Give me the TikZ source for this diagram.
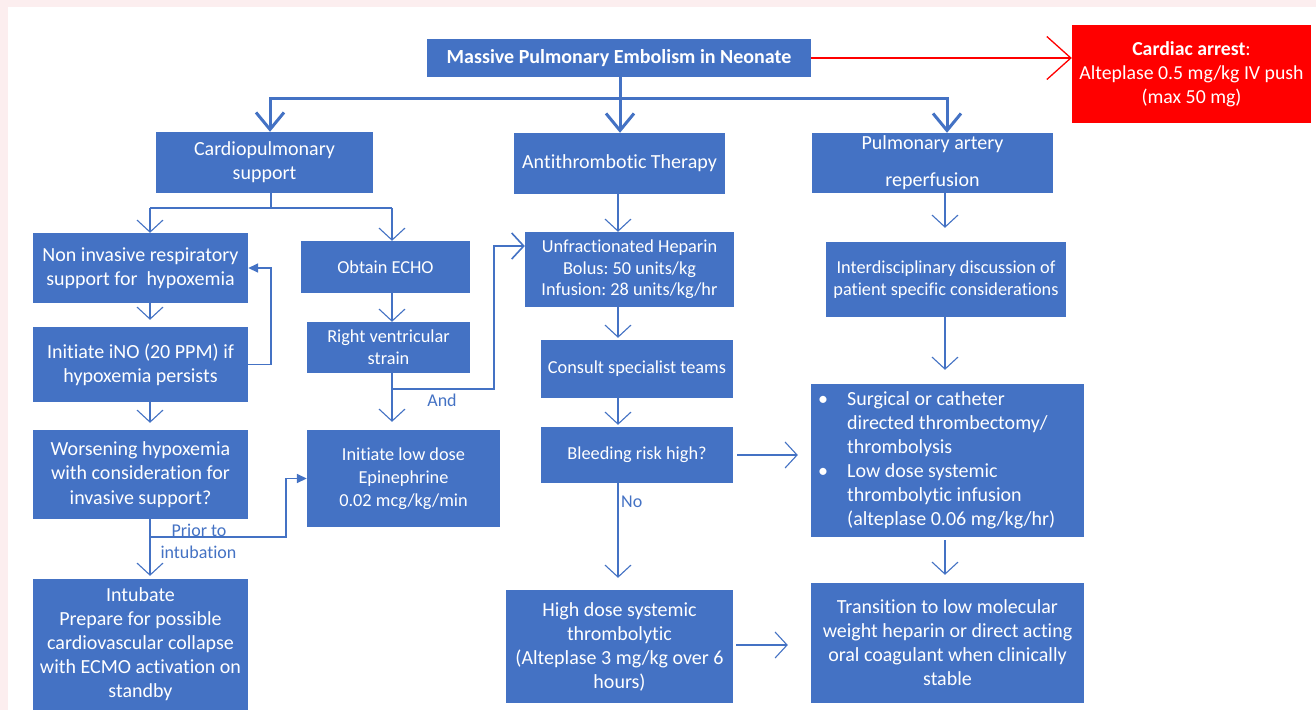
\documentclass[tikz,border=0pt]{standalone}
\usepackage{fontspec}
\setmainfont{Carlito}[Ligatures={NoCommon}]
\usetikzlibrary{arrows.meta,calc}
\definecolor{boxblue}{HTML}{4472C4}
\definecolor{linkblue}{HTML}{4472C4}
\definecolor{pinkbg}{HTML}{FCEEEF}
\definecolor{alarmred}{HTML}{FF0000}
\newcommand\bigtxt{\fontsize{20}{24}\selectfont}
\newcommand\smalltxt{\fontsize{18.3}{22}\selectfont}
\frenchspacing
\begin{document}
\frenchspacing
\begin{tikzpicture}[x=1pt,y=-1pt,
  box/.style={fill=boxblue, text=white, inner sep=0pt, align=center, font=\bigtxt},
  sbox/.style={box, font=\smalltxt},
  conn/.style={draw=linkblue, line width=1.1pt, -{Straight Barb[length=12pt,width=26pt]}},
  bigconn/.style={draw=linkblue, line width=3pt, -{Straight Barb[length=17pt,width=28pt]}},
  redconn/.style={draw=alarmred, line width=1.3pt, -{Straight Barb[length=24pt,width=43pt]}},
  branchline/.style={draw=linkblue, line width=1.8pt},
  fb/.style={draw=linkblue, line width=1.6pt, -{Triangle[length=10pt,width=9pt]}},
  lbl/.style={text=linkblue, inner sep=0pt, font=\fontsize{18}{20}\selectfont}
]
\fill[pinkbg] (0,0) rectangle (1316,710);
\fill[white] (8,7) rectangle (1316,710);
\useasboundingbox (0,0) rectangle (1316,710);

% helper columns
\coordinate (c150) at (150,0);
\coordinate (c270) at (270,0);
\coordinate (c392) at (392,0);
\coordinate (c618) at (618,0);
\coordinate (c945) at (945,0);
\coordinate (c947) at (947,0);

% nodes
\node[box, minimum width=384, minimum height=38, font=\bigtxt\bfseries] (title) at (619,58) {Massive Pulmonary Embolism in Neonate};
\node[box, fill=alarmred, minimum width=239, minimum height=98, font=\fontsize{19.8}{24}\selectfont] (arrest) at (1191.5,74) {\textbf{Cardiac arrest}:\\Alteplase 0.5 mg/kg IV push\\(max 50 mg)};

\node[box, minimum width=217, minimum height=61] (cardio) at (264.5,162.5) {Cardiopulmonary\\support};
\node[box, minimum width=211, minimum height=61] (anti) at (619.5,163.5) {Antithrombotic Therapy};
\node[box, minimum width=241, minimum height=60] (pa) at (932.5,163) {Pulmonary artery\\[13pt]reperfusion};

\node[box, minimum width=215, minimum height=70] (nonin) at (140.5,268) {Non invasive respiratory\\support for\ \ hypoxemia};
\node[sbox, minimum width=169, minimum height=52] (echo) at (385.5,267) {Obtain ECHO};
\node[box, minimum width=215, minimum height=75] (ino) at (140.5,364.5) {Initiate iNO (20 PPM) if\\hypoxemia persists};
\node[sbox, minimum width=163, minimum height=51] (rv) at (388.5,347.5) {Right ventricular\\strain};
\node[box, minimum width=215, minimum height=89, font=\fontsize{20}{24.5}\selectfont] (worse) at (140.5,474.5) {Worsening hypoxemia\\with consideration for\\invasive support?};
\node[sbox, minimum width=193, minimum height=97, font=\fontsize{18.3}{23}\selectfont] (epi) at (403.5,478.5) {Initiate low dose\\Epinephrine\\0.02 mcg/kg/min};
\node[box, minimum width=215, minimum height=131] (intub) at (140.5,644.5) {Intubate\\Prepare for possible\\cardiovascular collapse\\with ECMO activation on\\standby};

\node[sbox, minimum width=209, minimum height=75, font=\fontsize{18.3}{21.5}\selectfont] (hep) at (629.5,269.5) {Unfractionated Heparin\\Bolus: 50 units/kg\\Infusion: 28 units/kg/hr};
\node[sbox, minimum width=192, minimum height=58] (consult) at (637,369) {Consult specialist teams};
\node[sbox, minimum width=192, minimum height=56] (bleed) at (637,455) {Bleeding risk high?};
\node[box, minimum width=227, minimum height=113] (high) at (619.5,646.5) {High dose systemic\\thrombolytic\\(Alteplase 3 mg/kg over 6\\hours)};

\node[sbox, minimum width=240, minimum height=75] (interd) at (946,279.5) {Interdisciplinary discussion of\\patient specific considerations};
\node[box, minimum width=273, minimum height=153] (surg) at (947.5,460.5) {};
\node[box, anchor=west, align=left] (surgtxt) at (818,460.5) {\makebox[29pt][l]{•}Surgical or catheter\\\hspace*{29pt}directed thrombectomy/\\\hspace*{29pt}thrombolysis\\\makebox[29pt][l]{•}Low dose systemic\\\hspace*{29pt}thrombolytic infusion\\\hspace*{29pt}(alteplase 0.06 mg/kg/hr)};
\node[box, minimum width=273, minimum height=120] (trans) at (947.5,643) {Transition to low molecular\\weight heparin or direct acting\\oral coagulant when clinically\\stable};

% labels
\node[lbl] (andlbl) at (442,400) {And};
\node[lbl, anchor=west] (nolbl) at (621,502) {No};
\node[lbl] (priorlbl) at (199,530) {Prior to};
\node[lbl] (intublbl) at (198.5,552) {intubation};

% top connectors
\draw[redconn] (title.east) -- (arrest.west |- title.east);
\coordinate (hj) at (620,98);
\draw[draw=linkblue, line width=3pt] (title.south -| hj) -- (hj);
\draw[bigconn] (hj) -| (cardio.north -| c270);
\draw[bigconn] (hj) -- (anti.north -| hj);
\draw[bigconn] (hj) -| (pa.north -| c947);

% cardiopulmonary branch
\coordinate (cj) at (271,208);
\draw[branchline] (cardio.south -| cj) -- (cj);
\draw[branchline] (c150 |- cj) -- (c392 |- cj);
\draw[conn] (c150 |- cj) -- (nonin.north -| c150);
\draw[conn] (c392 |- cj) -- (echo.north -| c392);

% left column
\draw[conn, shorten >=7pt] (nonin.south -| c150) -- (ino.north -| c150);
\draw[conn, shorten >=7pt] (ino.south -| c150) -- (worse.north -| c150);
\draw[conn, shorten >=3pt] (worse.south -| c150) -- (intub.north -| c150);
\coordinate (fbc) at (271,0);
\draw[fb] (ino.east) -- (fbc |- ino.east) -- (fbc |- nonin.east) -- (nonin.east);
\coordinate (wj) at (150,537);
\coordinate (wc) at (286,537);
\draw[fb] (wj) -- (wc) |- (epi.west);

% echo column
\draw[conn] (echo.south -| c392) -- (rv.north -| c392);
\draw[conn, shorten >=8pt] (rv.south -| c392) -- (epi.north -| c392);
\coordinate (rj) at (392,389);
\coordinate (rc) at (494,246);
\draw[draw=linkblue, line width=1.6pt, -{Straight Barb[length=12pt,width=26pt]}] (rj) -| (rc) -- (hep.west |- rc);

% middle column
\draw[conn] (anti.south -| c618) -- (hep.north -| c618);
\draw[conn, shorten >=2pt] (hep.south -| c618) -- (consult.north -| c618);
\draw[conn, shorten >=2pt] (consult.south -| c618) -- (bleed.north -| c618);
\draw[conn, shorten >=12pt] (bleed.south -| c618) -- (high.north -| c618);
\draw[conn, shorten <=4pt, shorten >=13pt] (bleed.east) -- (surg.west |- bleed.east);
\coordinate (hy) at (0,645);
\draw[conn, shorten <=3pt, shorten >=23pt] (high.east |- hy) -- (trans.west |- hy);

% right column
\draw[conn, shorten >=14pt] (pa.south -| c945) -- (interd.north -| c945);
\draw[conn, shorten >=14pt] (interd.south -| c945) -- (surg.north -| c945);
\draw[conn, shorten <=3pt, shorten >=8pt] (surg.south -| c945) -- (trans.north -| c945);
\end{tikzpicture}
\end{document}
